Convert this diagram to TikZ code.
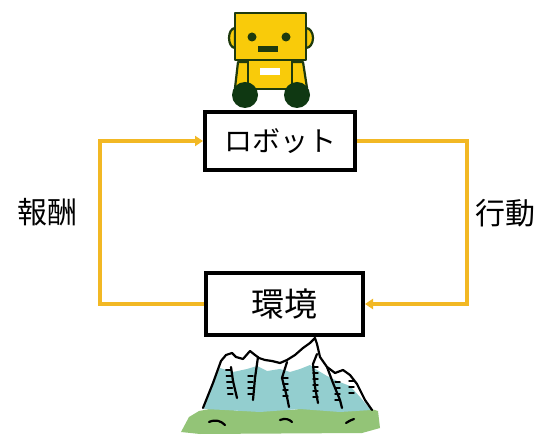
\documentclass[tikz,border=0pt]{standalone}
\usepackage{fontspec}
\newfontfamily\jp{Noto Sans CJK JP}
\usetikzlibrary{arrows.meta}
\definecolor{flowgold}{HTML}{F2B824}
\definecolor{botyellow}{HTML}{F9CB0A}
\definecolor{botdark}{HTML}{1E3A0E}
\definecolor{wheelgreen}{HTML}{0F3812}
\definecolor{rockteal}{HTML}{93CECF}
\definecolor{grassgreen}{HTML}{93C477}
\tikzset{
  box/.style={draw=black, line width=4pt, fill=white, inner sep=0pt},
  flow/.style={draw=flowgold, line width=3.4pt,
    -{Triangle[length=8pt,width=10pt]}},
  label/.style={font=\jp\fontsize{30pt}{30pt}\selectfont, inner sep=0pt},
  outline/.style={draw=botdark, line width=2.2pt, line join=round},
  ridge/.style={draw=black, line width=2.2pt, line cap=round, line join=round},
  hatch/.style={draw=black, line width=1.4pt, line cap=round}
}
\begin{document}
\begin{tikzpicture}[x=1pt, y=-1pt]
\useasboundingbox (0,0) rectangle (538,435);
\fill[white] (0,0) rectangle (538,435);

% --- robot figure ---
\filldraw[fill=botyellow, outline] (235,28) arc[start angle=90, end angle=270, x radius=6pt, y radius=10pt] -- cycle;
\filldraw[fill=botyellow, outline] (306,28) arc[start angle=90, end angle=-90, x radius=7pt, y radius=10pt] -- cycle;
\filldraw[fill=botyellow, outline] (235,88) -- (238,62) -- (249,62) -- (249,88) -- cycle;
\filldraw[fill=botyellow, outline] (291,62) -- (303,62) -- (307,88) -- (291,88) -- cycle;
\filldraw[fill=botyellow, outline] (248,60) rectangle (292,89);
\fill[white] (260,68) rectangle (280,75);
\filldraw[fill=botyellow, outline] (235,13) rectangle (306,60);
\fill[botdark] (252,37) circle[radius=4.5pt];
\fill[botdark] (286,37) circle[radius=4.5pt];
\fill[botdark] (258,46) rectangle (278,52);
\fill[wheelgreen] (245,95) circle[radius=13pt];
\fill[wheelgreen] (297,95) circle[radius=13pt];

% --- mountain figure ---
\fill[grassgreen] (181,432) -- (189,417) -- (199,411) -- (215,408) -- (240,411)
  -- (265,407) -- (290,410) -- (320,407) -- (345,410) -- (365,407) -- (378,411)
  -- (380,428) -- (362,433) -- (200,434) -- cycle;
\fill[rockteal] (204,409) -- (213,384) -- (220,368) -- (233,372) -- (247,369)
  -- (257,366) -- (267,371) -- (280,369) -- (290,372) -- (300,369) -- (310,365)
  -- (317,370) -- (327,376) -- (337,381) -- (350,386) -- (360,397) -- (371,410)
  -- (340,412) -- (300,409) -- (260,412) -- (225,410) -- cycle;
\draw[ridge] (203,408) -- (213,383) -- (221,361) -- (226,355) -- (232,353)
  -- (236,357) -- (243,359) -- (250,351) -- (255,355) -- (259,358) -- (265,360)
  -- (272,361) -- (280,363) -- (287,360) -- (295,355) -- (303,348) -- (310,343)
  -- (315,338) -- (317,344) -- (320,357) -- (327,367) -- (335,373) -- (343,370)
  -- (350,375) -- (357,384) -- (365,400) -- (372,410);
\draw[ridge] (231,367) -- (233,381) -- (237,398);
\draw[ridge] (258,357) -- (255,378) -- (253,400);
\draw[ridge] (287,362) -- (282,378) -- (287,397) -- (289,407);
\draw[ridge] (317,354) -- (313,364) -- (315,387) -- (318,403);
\draw[ridge] (327,367) -- (333,383) -- (340,400) -- (342,408);
% rock hatching
\foreach \y in {370,376,382,388,394} \draw[hatch] (\y/12+200,\y) ++(-5,0) -- ++(5,0);
\foreach \y in {376,382,388,394} \draw[hatch] (248,\y) -- (253,\y);
\foreach \y in {378,384,390,396} \draw[hatch] (283,\y) -- (288,\y);
\foreach \y in {367,373,379,385,391,397} \draw[hatch] (313,\y) -- (318,\y);
\foreach \y in {382,388,394,400} \draw[hatch] (335,\y) -- (340,\y);
\foreach \y in {381,387,393} \draw[hatch] (349,\y) -- (354,\y);
% grass tufts
\draw[ridge] (209,422) .. controls (216,419) and (221,421) .. (225,425);
\draw[ridge] (280,420) .. controls (285,418) and (289,419) .. (292,422);
\draw[ridge] (346,423) .. controls (349,421) and (351,420) .. (354,419);

% --- blocks ---
\node[box, minimum width=150pt, minimum height=58pt] (robot) at (280,141)
  {\jp\fontsize{28pt}{28pt}\selectfont ロボット};
\node[box, minimum width=157pt, minimum height=62pt] (env) at (284.5,304)
  {\jp\fontsize{33pt}{33pt}\selectfont 環境};

% --- loop connectors ---
\coordinate (lt) at (100,141);
\coordinate (rt) at (467,220);
\draw[flow] (env.west) -| (lt) -- (robot.west);
\draw[flow] (robot.east) -| (rt) |- (env.east);

% --- edge labels ---
\node[label] (reward) at (47,212) {報酬};
\node[label] (action) at (505,213) {行動};
\end{tikzpicture}
\end{document}
